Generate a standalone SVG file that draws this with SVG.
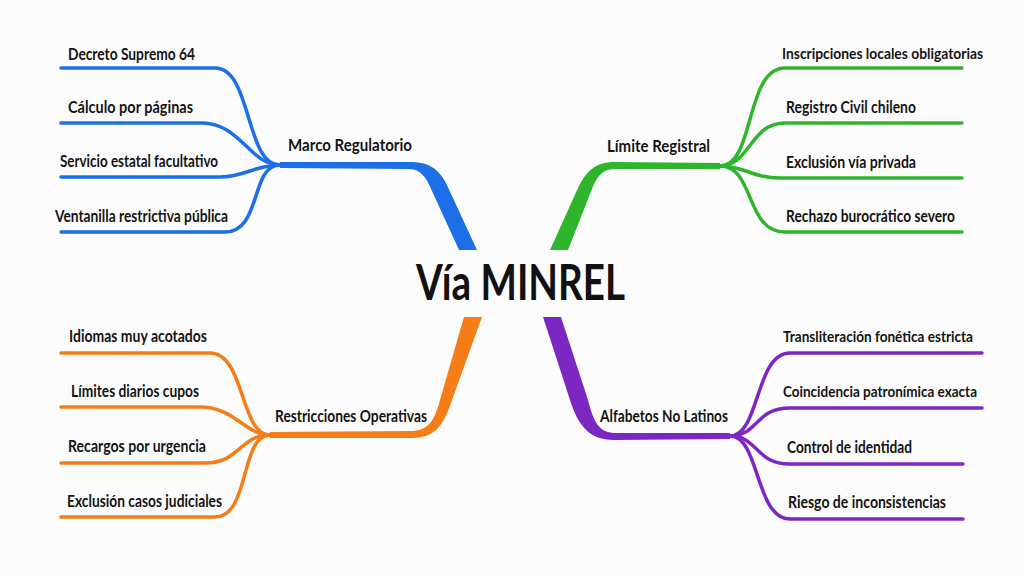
<svg xmlns="http://www.w3.org/2000/svg" width="1024" height="576" viewBox="0 0 1024 576">
<style>
.t{font-family:Lato,"Liberation Sans",sans-serif;font-weight:bold;font-size:17.5px;fill:#141414}
.s{font-size:16px}
.c{font-family:Lato,"Liberation Sans",sans-serif;font-weight:bold;font-size:49px;fill:#111}
.leaf{fill:none;stroke-width:3.5;stroke-linecap:round;stroke-linejoin:round}
.b{stroke:#1c6fe6}.g{stroke:#2fb52c}.o{stroke:#f57d17}.p{stroke:#7d27c2}
</style>
<rect width="1024" height="576" fill="#fcfcfc"/>
<g id="connectors">
<path fill="#1c6fe6" d="M280 162 L410 162 C428 162 438 168 446 183 L477 250 L459 250 L432 191 C426 176 420 169 408 169 L280 168 Z"/>
<path fill="#2fb52c" d="M550 250 L578 188 C586 171 596 162 614 162 L720 163 L720 169 L616 169 C604 169 598 174 592 189 L568 250 Z"/>
<path fill="#f57d17" d="M482 317 L452 400 C444 424 436 438 412 438 L270 438 L270 432 L410 431 C428 431 434 422 440 400 L464 317 Z"/>
<path fill="#7d27c2" d="M543 317 L570 400 C578 426 590 440 614 440 L730 439 L730 433 L616 433 C600 433 594 424 588 400 L561 317 Z"/>
<path class="leaf b" d="M280 165 C245 165 252 68 215 68 L61 68"/>
<path class="leaf b" d="M280 165 C250 165 240 123 202 123 L61 123"/>
<path class="leaf b" d="M280 165 C255 165 245 177 220 177 L61 177"/>
<path class="leaf b" d="M280 165 C250 165 262 232 225 232 L61 232"/>
<path class="leaf g" d="M720 166 C755 166 745 68 785 68 L962 68"/>
<path class="leaf g" d="M720 166 C750 166 750 123 785 123 L962 123"/>
<path class="leaf g" d="M720 166 C745 166 752 178 780 178 L962 178"/>
<path class="leaf g" d="M720 166 C755 166 745 232 785 232 L962 232"/>
<path class="leaf o" d="M270 435 C240 435 245 353 210 353 L61 353"/>
<path class="leaf o" d="M270 435 C245 435 235 407 200 407 L61 407"/>
<path class="leaf o" d="M270 435 C240 435 240 463 205 463 L61 463"/>
<path class="leaf o" d="M270 435 C240 435 250 517 215 517 L61 517"/>
<path class="leaf p" d="M730 436 C760 436 755 353 790 353 L982 353"/>
<path class="leaf p" d="M730 436 C758 436 755 408 790 408 L982 408"/>
<path class="leaf p" d="M730 436 C758 436 755 464 790 464 L963 464"/>
<path class="leaf p" d="M730 436 C760 436 755 519 790 519 L963 519"/>
</g>
<g id="center"><text class="c" x="416" y="300" textLength="209" lengthAdjust="spacingAndGlyphs">Vía MINREL</text></g>
<g id="marco">
<text class="t" x="288" y="151" textLength="124" lengthAdjust="spacingAndGlyphs">Marco Regulatorio</text>
<text class="t" x="68" y="60" textLength="127" lengthAdjust="spacingAndGlyphs">Decreto Supremo 64</text>
<text class="t" x="68" y="113" textLength="125" lengthAdjust="spacingAndGlyphs">Cálculo por páginas</text>
<text class="t" x="60" y="167" textLength="158" lengthAdjust="spacingAndGlyphs">Servicio estatal facultativo</text>
<text class="t" x="55" y="222" textLength="173" lengthAdjust="spacingAndGlyphs">Ventanilla restrictiva pública</text>
</g>
<g id="limite">
<text class="t" x="607" y="152" textLength="103" lengthAdjust="spacingAndGlyphs">Límite Registral</text>
<text class="t s" x="782" y="59" textLength="201" lengthAdjust="spacingAndGlyphs">Inscripciones locales obligatorias</text>
<text class="t" x="786" y="113" textLength="130" lengthAdjust="spacingAndGlyphs">Registro Civil chileno</text>
<text class="t" x="786" y="168" textLength="130" lengthAdjust="spacingAndGlyphs">Exclusión vía privada</text>
<text class="t" x="786" y="222" textLength="169" lengthAdjust="spacingAndGlyphs">Rechazo burocrático severo</text>
</g>
<g id="restricciones">
<text class="t" x="275" y="422" textLength="152" lengthAdjust="spacingAndGlyphs">Restricciones Operativas</text>
<text class="t" x="69" y="342" textLength="138" lengthAdjust="spacingAndGlyphs">Idiomas muy acotados</text>
<text class="t" x="71" y="397" textLength="128" lengthAdjust="spacingAndGlyphs">Límites diarios cupos</text>
<text class="t" x="68" y="452" textLength="138" lengthAdjust="spacingAndGlyphs">Recargos por urgencia</text>
<text class="t" x="67" y="507" textLength="155" lengthAdjust="spacingAndGlyphs">Exclusión casos judiciales</text>
</g>
<g id="alfabetos">
<text class="t" x="600" y="422" textLength="128" lengthAdjust="spacingAndGlyphs">Alfabetos No Latinos</text>
<text class="t s" x="783" y="342" textLength="190" lengthAdjust="spacingAndGlyphs">Transliteración fonética estricta</text>
<text class="t s" x="783" y="397" textLength="194" lengthAdjust="spacingAndGlyphs">Coincidencia patronímica exacta</text>
<text class="t" x="787" y="453" textLength="125" lengthAdjust="spacingAndGlyphs">Control de identidad</text>
<text class="t" x="788" y="508" textLength="158" lengthAdjust="spacingAndGlyphs">Riesgo de inconsistencias</text>
</g>
</svg>
